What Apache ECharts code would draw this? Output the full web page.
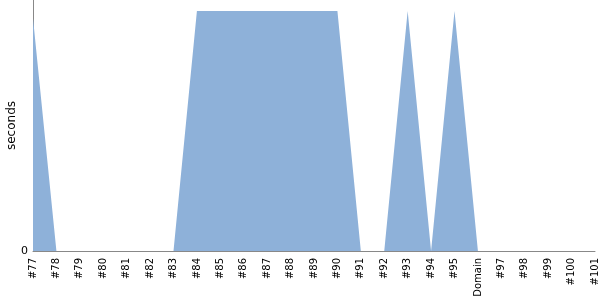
<!DOCTYPE html>
<html><head><meta charset="utf-8">
<script src="https://cdn.jsdelivr.net/npm/echarts@6/dist/echarts.min.js"></script>
<style>html,body{margin:0;padding:0;background:#fff}#c{width:600px;height:300px}</style>
</head><body><div id="c"></div>
<script>
const categories = ['#77','#78','#79','#80','#81','#82','#83','#84','#85','#86','#87','#88','#89','#90','#91','#92','#93','#94','#95','Domain','#97','#98','#99','#100','#101'];
const seconds = [0.97,0,0,0,0,0,0,1,1,1,1,1,1,1,0,0,1,0,1,0,0,0,0,0,0];
const yMax = 1.046;
const chart = echarts.init(document.getElementById('c'), null, {renderer:'canvas'});
chart.setOption({
  animation:false,
  grid:{left:33,right:5,top:0,bottom:49,containLabel:false,outerBoundsMode:'none'},
  xAxis:{type:'category',data:categories,boundaryGap:false,
    axisLine:{lineStyle:{color:'#888',width:1}},axisTick:{show:false},
    axisLabel:{rotate:90,interval:0,color:'#000',fontFamily:'DejaVu Sans',fontSize:10,margin:7}},
  yAxis:{type:'value',min:0,max:yMax,interval:yMax,name:'seconds',nameLocation:'middle',nameGap:15,nameMoveOverlap:false,
    nameTextStyle:{color:'#000',fontFamily:'DejaVu Sans',fontSize:12},
    axisLine:{show:true,lineStyle:{color:'#888',width:1}},axisTick:{show:false},splitLine:{show:false},
    axisLabel:{color:'#000',fontFamily:'DejaVu Sans',fontSize:11,margin:5,formatter:v=>v===0?'0':''}},
  series:[{type:'line',data:seconds,symbol:'none',lineStyle:{width:0},
    areaStyle:{color:'#8eb1d9',opacity:1}}]
});
</script></body></html>
